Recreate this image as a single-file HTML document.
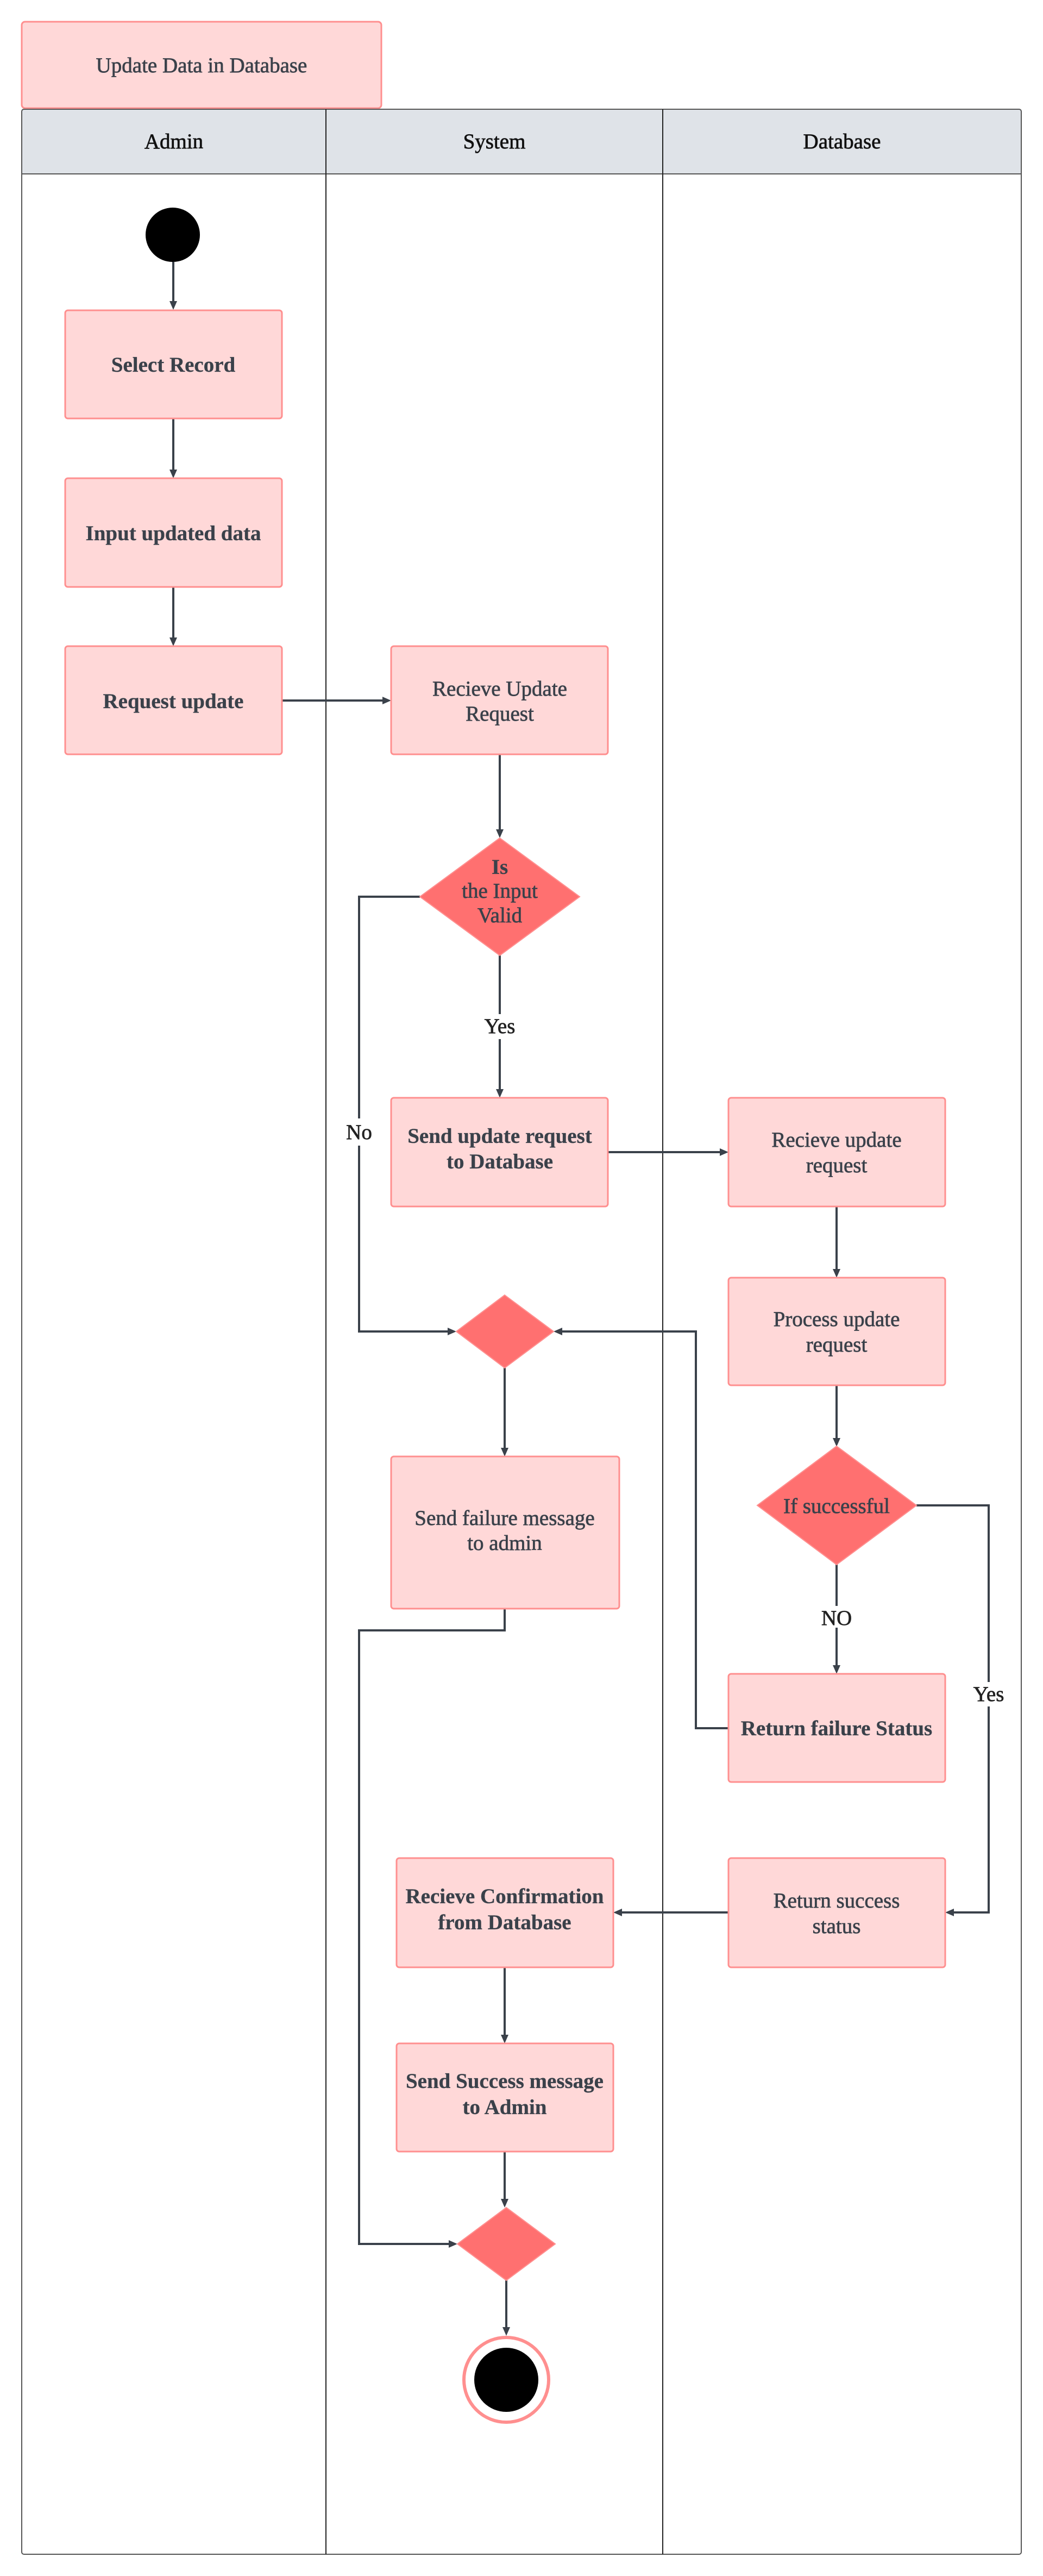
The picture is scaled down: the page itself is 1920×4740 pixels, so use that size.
<!DOCTYPE html>
<html><head><meta charset="utf-8"><style>
html,body{margin:0;padding:0;background:#fff}
svg{display:block}
text{font-family:"Liberation Serif",serif;fill:#3a414a;font-size:39px;text-anchor:middle;stroke:#3a414a;stroke-width:0.7px}
.b{font-weight:bold;stroke-width:0.3px}
.h{fill:#111;stroke:#111}
.box{fill:#ffd8d8;stroke:#ff8f8f;stroke-width:3}
.dia{fill:#ff7070;stroke:#ff8f8f;stroke-width:2}
.ln{fill:none;stroke:#3a414a;stroke-width:4}
.lbl{fill:#222;stroke:#222}
</style></head><body>
<svg width="1920" height="4740" viewBox="0 0 1920 4740" xmlns="http://www.w3.org/2000/svg">
<rect x="40" y="40" width="662" height="159" rx="6" class="box" stroke-width="4"/>
<text x="371" y="133">Update Data in Database</text>
<rect x="40" y="201" width="1840" height="119" fill="#dfe3e8"/>
<rect x="40" y="201" width="1840" height="4499" rx="4" fill="none" stroke="#555" stroke-width="2"/>
<line x1="40" y1="320" x2="1880" y2="320" stroke="#555" stroke-width="2"/>
<line x1="600" y1="201" x2="600" y2="4700" stroke="#222" stroke-width="2"/>
<line x1="1220" y1="201" x2="1220" y2="4700" stroke="#222" stroke-width="2"/>
<text x="320" y="273" class="h">Admin</text>
<text x="910" y="273" class="h">System</text>
<text x="1550" y="273" class="h">Database</text>

<circle cx="318" cy="432" r="50" fill="#000"/>

<g class="ln">
<path d="M319 482 V556"/>
<path d="M319 770 V866"/>
<path d="M319 1080 V1175"/>
<path d="M519 1289 H706"/>
<path d="M920 1388 V1528"/>
<path d="M920 1758 V1866 M920 1912 V2006"/>
<path d="M1119 2120 H1327"/>
<path d="M1540 2220 V2337"/>
<path d="M1540 2549 V2648"/>
<path d="M773 1650 H661 V2058 M661 2108 V2450 H826"/>
<path d="M929 2517 V2666"/>
<path d="M1540 2879 V2955 M1540 2995 V3066"/>
<path d="M1341 3180 H1281 V2450 H1033"/>
<path d="M1687 2770 H1820 V3095 M1820 3140 V3519 H1754"/>
<path d="M1341 3519 H1143"/>
<path d="M929 3620 V3746"/>
<path d="M929 2960 V3000 H661 V4129 H828"/>
<path d="M929 3959 V4048"/>
<path d="M932 4196 V4284"/>
</g>
<g fill="#3a414a">
<polygon points="312,554 326,554 319,570"/>
<polygon points="312,864 326,864 319,880"/>
<polygon points="312,1173 326,1173 319,1189"/>
<polygon points="704,1282 704,1296 720,1289"/>
<polygon points="913,1526 927,1526 920,1542"/>
<polygon points="913,2004 927,2004 920,2020"/>
<polygon points="1325,2113 1325,2127 1341,2120"/>
<polygon points="1533,2335 1547,2335 1540,2351"/>
<polygon points="1533,2646 1547,2646 1540,2662"/>
<polygon points="824,2443 824,2457 840,2450"/>
<polygon points="922,2664 936,2664 929,2680"/>
<polygon points="1533,3064 1547,3064 1540,3080"/>
<polygon points="1035,2443 1035,2457 1019,2450"/>
<polygon points="1756,3512 1756,3526 1740,3519"/>
<polygon points="1145,3512 1145,3526 1129,3519"/>
<polygon points="922,3744 936,3744 929,3760"/>
<polygon points="826,4122 826,4136 842,4129"/>
<polygon points="922,4046 936,4046 929,4062"/>
<polygon points="925,4282 939,4282 932,4298"/>
</g>
<text x="920" y="1901" class="lbl">Yes</text>
<text x="661" y="2096" class="lbl">No</text>
<text x="1540" y="2990" class="lbl">NO</text>
<text x="1820" y="3130" class="lbl">Yes</text>

<rect x="120" y="571" width="399" height="199" rx="5" class="box"/>
<text x="319" y="684" class="b">Select Record</text>
<rect x="120" y="880" width="399" height="200" rx="5" class="box"/>
<text x="319" y="994" class="b">Input updated data</text>
<rect x="120" y="1189" width="399" height="199" rx="5" class="box"/>
<text x="319" y="1303" class="b">Request update</text>
<rect x="720" y="1189" width="399" height="199" rx="5" class="box"/>
<text x="920" y="1280">Recieve Update</text>
<text x="920" y="1326">Request</text>

<polygon points="920,1542 1067,1650 920,1758 773,1650" class="dia"/>
<text x="920" y="1608" class="b">Is</text>
<text x="920" y="1652">the Input</text>
<text x="920" y="1697">Valid</text>

<rect x="720" y="2020" width="399" height="200" rx="5" class="box"/>
<text x="920" y="2103" class="b">Send update request</text>
<text x="920" y="2150" class="b">to Database</text>
<rect x="1341" y="2020" width="399" height="200" rx="5" class="box"/>
<text x="1540" y="2110">Recieve update</text>
<text x="1540" y="2157">request</text>

<polygon points="929,2383 1019,2450 929,2517 840,2450" class="dia"/>

<rect x="1341" y="2351" width="399" height="198" rx="5" class="box"/>
<text x="1540" y="2440">Process update</text>
<text x="1540" y="2487">request</text>

<polygon points="1540,2661 1687,2770 1540,2879 1394,2770" class="dia"/>
<text x="1540" y="2784">If successful</text>

<rect x="720" y="2680" width="420" height="280" rx="5" class="box"/>
<text x="929" y="2806">Send failure message</text>
<text x="929" y="2852">to admin</text>

<rect x="1341" y="3080" width="399" height="199" rx="5" class="box"/>
<text x="1540" y="3193" class="b">Return failure Status</text>

<rect x="730" y="3419" width="399" height="201" rx="5" class="box"/>
<text x="929" y="3502" class="b">Recieve Confirmation</text>
<text x="929" y="3550" class="b">from Database</text>
<rect x="1341" y="3419" width="399" height="201" rx="5" class="box"/>
<text x="1540" y="3510">Return success</text>
<text x="1540" y="3557">status</text>

<rect x="730" y="3760" width="399" height="199" rx="5" class="box"/>
<text x="929" y="3842" class="b">Send Success message</text>
<text x="929" y="3890" class="b">to Admin</text>

<polygon points="932,4062 1022,4129 932,4196 842,4129" class="dia"/>

<circle cx="932" cy="4379" r="78" fill="#fff" stroke="#ff8f8f" stroke-width="6"/>
<circle cx="932" cy="4379" r="59" fill="#000"/>
</svg>
</body></html>
